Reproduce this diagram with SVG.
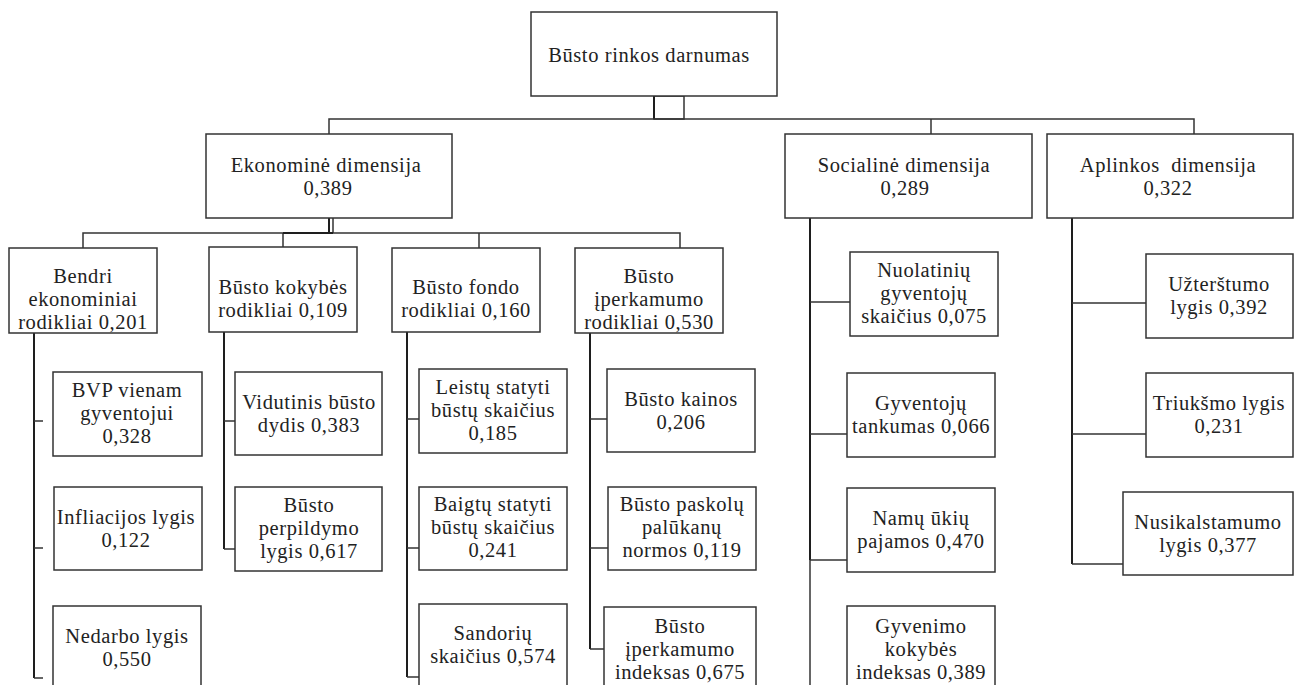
<svg xmlns="http://www.w3.org/2000/svg" width="1295" height="685" viewBox="0 0 1295 685">
<style>
.b{fill:#fff;stroke:#333;stroke-width:1.5}
.t{font-size:20.5px;letter-spacing:0.6px;fill:#222;text-anchor:middle}
.c{fill:none;stroke:#333;stroke-width:1.5}
.v{fill:none;stroke:#1e1e1e;stroke-width:2}
</style>
<rect width="1295" height="685" fill="#fff"/>
<g id="connectors">
<rect x="654" y="96" width="30" height="23" class="c"/>
<line x1="654" y1="96" x2="654" y2="119" class="v"/>
<polyline points="329,134 329,119 1194,119 1194,134" class="c"/>
<line x1="931" y1="119" x2="931" y2="134" class="c"/>
<line x1="329" y1="218" x2="329" y2="233" class="v"/>
<line x1="333" y1="218" x2="333" y2="233" class="c"/>
<polyline points="83,248 83,233 680,233 680,248" class="c"/>
<line x1="283" y1="233" x2="283" y2="247" class="c"/>
<line x1="479" y1="233" x2="479" y2="248" class="c"/>
<line x1="283" y1="233" x2="333" y2="233" class="v"/>
<line x1="34" y1="333" x2="34" y2="678" class="v"/>
<line x1="34" y1="421" x2="43" y2="421" class="c"/>
<line x1="34" y1="548" x2="43" y2="548" class="c"/>
<line x1="34" y1="678" x2="43" y2="678" class="c"/>
<line x1="224" y1="332" x2="224" y2="549" class="v"/>
<line x1="224" y1="421" x2="235" y2="421" class="c"/>
<line x1="224" y1="549" x2="235" y2="549" class="c"/>
<line x1="407" y1="332" x2="407" y2="677" class="v"/>
<line x1="407" y1="419" x2="419" y2="419" class="c"/>
<line x1="407" y1="548" x2="419" y2="548" class="c"/>
<line x1="407" y1="677" x2="419" y2="677" class="c"/>
<line x1="590" y1="333" x2="590" y2="649" class="v"/>
<line x1="590" y1="419" x2="607" y2="419" class="c"/>
<line x1="590" y1="548" x2="608" y2="548" class="c"/>
<line x1="590" y1="649" x2="604" y2="649" class="c"/>
<line x1="810" y1="218" x2="810" y2="560" class="v"/>
<line x1="810" y1="560" x2="810" y2="685" class="c"/>
<line x1="810" y1="302" x2="850" y2="302" class="c"/>
<line x1="810" y1="434" x2="847" y2="434" class="c"/>
<line x1="810" y1="560" x2="847" y2="560" class="c"/>
<line x1="1072" y1="218" x2="1072" y2="564" class="v"/>
<line x1="1072" y1="303" x2="1146" y2="303" class="c"/>
<line x1="1072" y1="434" x2="1146" y2="434" class="c"/>
<line x1="1072" y1="564" x2="1123" y2="564" class="c"/>
</g>
<g id="nodes" font-family="Liberation Serif, Times New Roman, serif">
<g id="root"><rect x="531" y="12" width="246" height="84" class="b"/><text class="t" x="649" y="62">Būsto rinkos darnumas</text></g>
<g id="ekonomine"><rect x="206" y="134" width="246" height="84" class="b"/><text class="t" x="326" y="172">Ekonominė dimensija</text><text class="t" x="328" y="195">0,389</text></g>
<g id="socialine"><rect x="785" y="134" width="247" height="84" class="b"/><text class="t" x="904" y="172">Socialinė dimensija</text><text class="t" x="905" y="195">0,289</text></g>
<g id="aplinkos"><rect x="1047" y="134" width="246" height="84" class="b"/><text class="t" x="1168" y="172" xml:space="preserve">Aplinkos  dimensija</text><text class="t" x="1168" y="195">0,322</text></g>
<g id="bendri"><rect x="9" y="248" width="148" height="85" class="b"/><text class="t" x="83" y="283">Bendri</text><text class="t" x="83" y="306">ekonominiai</text><text class="t" x="83" y="329">rodikliai 0,201</text></g>
<g id="kokybes"><rect x="209" y="247" width="148" height="85" class="b"/><text class="t" x="283" y="294">Būsto kokybės</text><text class="t" x="283" y="317">rodikliai 0,109</text></g>
<g id="fondo"><rect x="392" y="248" width="148" height="84" class="b"/><text class="t" x="466" y="294">Būsto fondo</text><text class="t" x="466" y="317">rodikliai 0,160</text></g>
<g id="iperkamumo"><rect x="575" y="248" width="148" height="85" class="b"/><text class="t" x="649" y="283">Būsto</text><text class="t" x="649" y="306">įperkamumo</text><text class="t" x="649" y="329">rodikliai 0,530</text></g>
<g id="bvp"><rect x="53" y="372" width="149" height="84" class="b"/><text class="t" x="127" y="397">BVP vienam</text><text class="t" x="127" y="420">gyventojui</text><text class="t" x="127" y="443">0,328</text></g>
<g id="infliacija"><rect x="54" y="487" width="148" height="83" class="b"/><text class="t" x="126" y="524">Infliacijos lygis</text><text class="t" x="126" y="547">0,122</text></g>
<g id="nedarbas"><rect x="53" y="606" width="148" height="84" class="b"/><text class="t" x="127" y="643">Nedarbo lygis</text><text class="t" x="127" y="666">0,550</text></g>
<g id="vidutinis"><rect x="235" y="372" width="147" height="83" class="b"/><text class="t" x="309" y="409">Vidutinis būsto</text><text class="t" x="309" y="432">dydis 0,383</text></g>
<g id="perpildymas"><rect x="235" y="487" width="147" height="84" class="b"/><text class="t" x="309" y="512">Būsto</text><text class="t" x="309" y="535">perpildymo</text><text class="t" x="309" y="558">lygis 0,617</text></g>
<g id="leistu"><rect x="419" y="369" width="148" height="84" class="b"/><text class="t" x="493" y="394">Leistų statyti</text><text class="t" x="493" y="417">būstų skaičius</text><text class="t" x="493" y="440">0,185</text></g>
<g id="baigtu"><rect x="419" y="487" width="148" height="83" class="b"/><text class="t" x="493" y="511">Baigtų statyti</text><text class="t" x="493" y="534">būstų skaičius</text><text class="t" x="493" y="557">0,241</text></g>
<g id="sandoriu"><rect x="419" y="604" width="148" height="86" class="b"/><text class="t" x="493" y="640">Sandorių</text><text class="t" x="493" y="663">skaičius 0,574</text></g>
<g id="kainos"><rect x="607" y="369" width="148" height="83" class="b"/><text class="t" x="681" y="406">Būsto kainos</text><text class="t" x="681" y="429">0,206</text></g>
<g id="paskolos"><rect x="608" y="487" width="148" height="83" class="b"/><text class="t" x="682" y="511">Būsto paskolų</text><text class="t" x="682" y="534">palūkanų</text><text class="t" x="682" y="557">normos 0,119</text></g>
<g id="iperkamumo-indeksas"><rect x="604" y="607" width="152" height="83" class="b"/><text class="t" x="680" y="633">Būsto</text><text class="t" x="680" y="656">įperkamumo</text><text class="t" x="680" y="679">indeksas 0,675</text></g>
<g id="nuolatiniu"><rect x="850" y="252" width="148" height="84" class="b"/><text class="t" x="924" y="277">Nuolatinių</text><text class="t" x="924" y="300">gyventojų</text><text class="t" x="924" y="323">skaičius 0,075</text></g>
<g id="tankumas"><rect x="847" y="373" width="148" height="84" class="b"/><text class="t" x="921" y="410">Gyventojų</text><text class="t" x="921" y="433">tankumas 0,066</text></g>
<g id="pajamos"><rect x="847" y="488" width="148" height="84" class="b"/><text class="t" x="921" y="525">Namų ūkių</text><text class="t" x="921" y="548">pajamos 0,470</text></g>
<g id="gyvenimo"><rect x="847" y="606" width="148" height="84" class="b"/><text class="t" x="921" y="633">Gyvenimo</text><text class="t" x="921" y="656">kokybės</text><text class="t" x="921" y="679">indeksas 0,389</text></g>
<g id="uzterstumas"><rect x="1146" y="254" width="147" height="84" class="b"/><text class="t" x="1219" y="291">Užterštumo</text><text class="t" x="1219" y="314">lygis 0,392</text></g>
<g id="triuksmas"><rect x="1146" y="373" width="147" height="84" class="b"/><text class="t" x="1219" y="410">Triukšmo lygis</text><text class="t" x="1219" y="433">0,231</text></g>
<g id="nusikalstamumas"><rect x="1123" y="492" width="170" height="83" class="b"/><text class="t" x="1208" y="529">Nusikalstamumo</text><text class="t" x="1208" y="552">lygis 0,377</text></g>
</g>
</svg>
